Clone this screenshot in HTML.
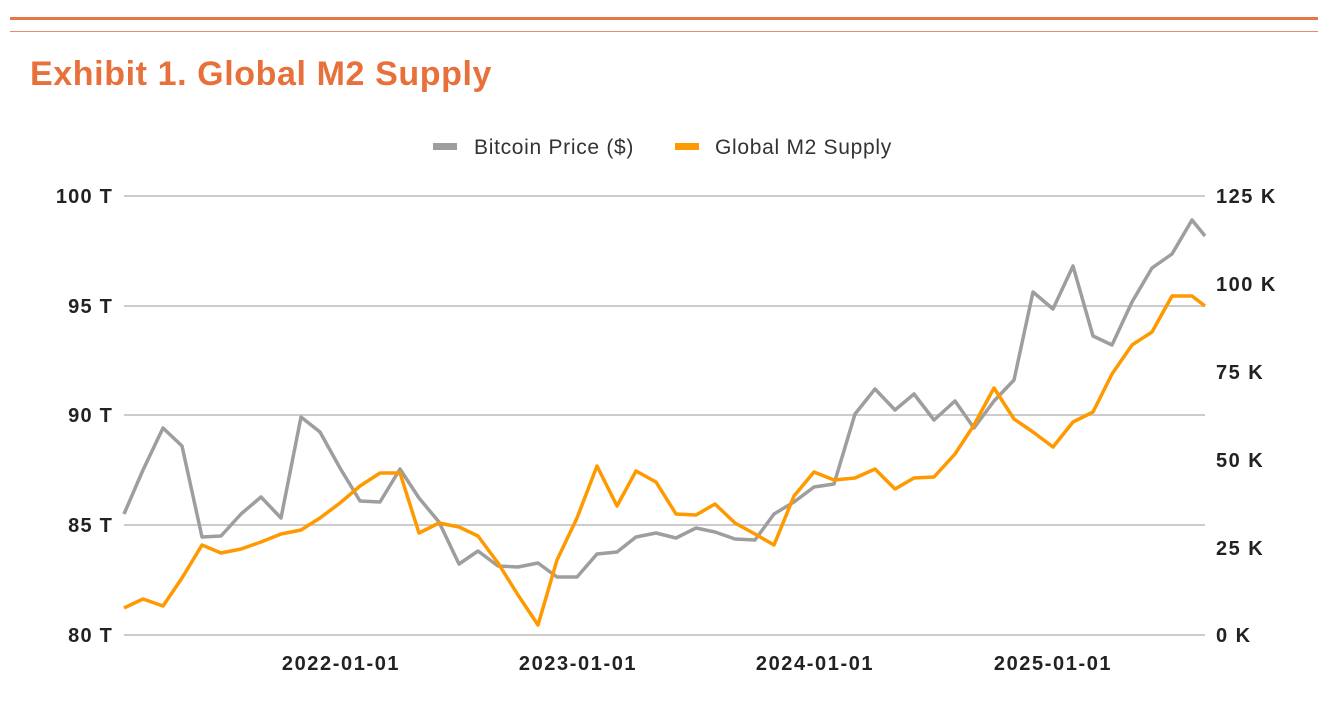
<!DOCTYPE html>
<html><head><meta charset="utf-8"><style>
body{margin:0;background:#fff;width:1338px;height:722px;overflow:hidden;font-family:"Liberation Sans",sans-serif}
</style></head><body>
<svg width="1338" height="722" xmlns="http://www.w3.org/2000/svg" font-family="Liberation Sans, sans-serif">
<rect x="10" y="17" width="1308" height="3" fill="#e8744a"/>
<rect x="10" y="31" width="1308" height="1" fill="#e09070"/>
<text x="30" y="85" font-size="34" font-weight="bold" fill="#e8703a" letter-spacing="0.6">Exhibit 1. Global M2 Supply</text>
<rect x="433" y="143" width="24" height="7" fill="#9e9e9e"/>
<text x="474" y="154" font-size="21" fill="#333" letter-spacing="0.7">Bitcoin Price ($)</text>
<rect x="675" y="143" width="24" height="7" fill="#ff9900"/>
<text x="715" y="154" font-size="21" fill="#333" letter-spacing="0.7">Global M2 Supply</text>
<g stroke="#cccccc" stroke-width="2">
<line x1="124" y1="196" x2="1205" y2="196"/><line x1="124" y1="306" x2="1205" y2="306"/>
<line x1="124" y1="415" x2="1205" y2="415"/><line x1="124" y1="525" x2="1205" y2="525"/>
<line x1="124" y1="635" x2="1205" y2="635"/></g>
<g font-size="20" font-weight="bold" fill="#222" text-anchor="end" letter-spacing="1.2">
<text x="113" y="203">100 T</text><text x="113" y="313">95 T</text><text x="113" y="422">90 T</text><text x="113" y="532">85 T</text><text x="113" y="642">80 T</text></g>
<g font-size="20" font-weight="bold" fill="#222" letter-spacing="1.5">
<text x="1216" y="203">125 K</text><text x="1216" y="291">100 K</text><text x="1216" y="379">75 K</text><text x="1216" y="467">50 K</text><text x="1216" y="555">25 K</text><text x="1216" y="642">0 K</text></g>
<g font-size="20" font-weight="bold" fill="#222" text-anchor="middle" letter-spacing="1.6">
<text x="341" y="670">2022-01-01</text><text x="578" y="670">2023-01-01</text><text x="815" y="670">2024-01-01</text><text x="1053" y="670">2025-01-01</text></g>
<polyline fill="none" stroke="#9e9e9e" stroke-width="3.5" stroke-linejoin="round" points="124,514 143,470 163,428 182,446 202,537 221,536 241,514 261,497 281,518 301,417 320,432 340,468 360,501 380,502 400,469 419,498 439,522 459,564 478,551 498,566 518,567 538,563 557,577 577,577 597,554 617,552 636,537 656,533 676,538 696,528 715,532 735,539 755,540 774,514 794,502 814,487 834,484 855,414 875,389 895,410 914,394 934,420 955,401 974,428 994,401 1014,380 1033,292 1053,309 1073,266 1093,336 1112,345 1132,302 1152,268 1172,254 1192,220 1205,236"/>
<polyline fill="none" stroke="#ff9900" stroke-width="3.5" stroke-linejoin="round" points="124,608 143,599 163,606 182,578 202,545 221,553 241,549 261,542 281,534 301,530 320,518 340,503 360,486 380,473 400,473 419,533 439,523 459,527 478,536 498,563 518,595 538,625 557,560 577,518 597,466 617,506 636,471 656,482 676,514 696,515 715,504 735,523 755,534 774,545 794,496 814,472 834,480 855,478 875,469 895,489 914,478 934,477 955,454 974,425 994,388 1014,419 1033,432 1053,447 1073,422 1093,412 1112,374 1132,345 1152,332 1172,296 1192,296 1205,306"/>
</svg>
</body></html>
